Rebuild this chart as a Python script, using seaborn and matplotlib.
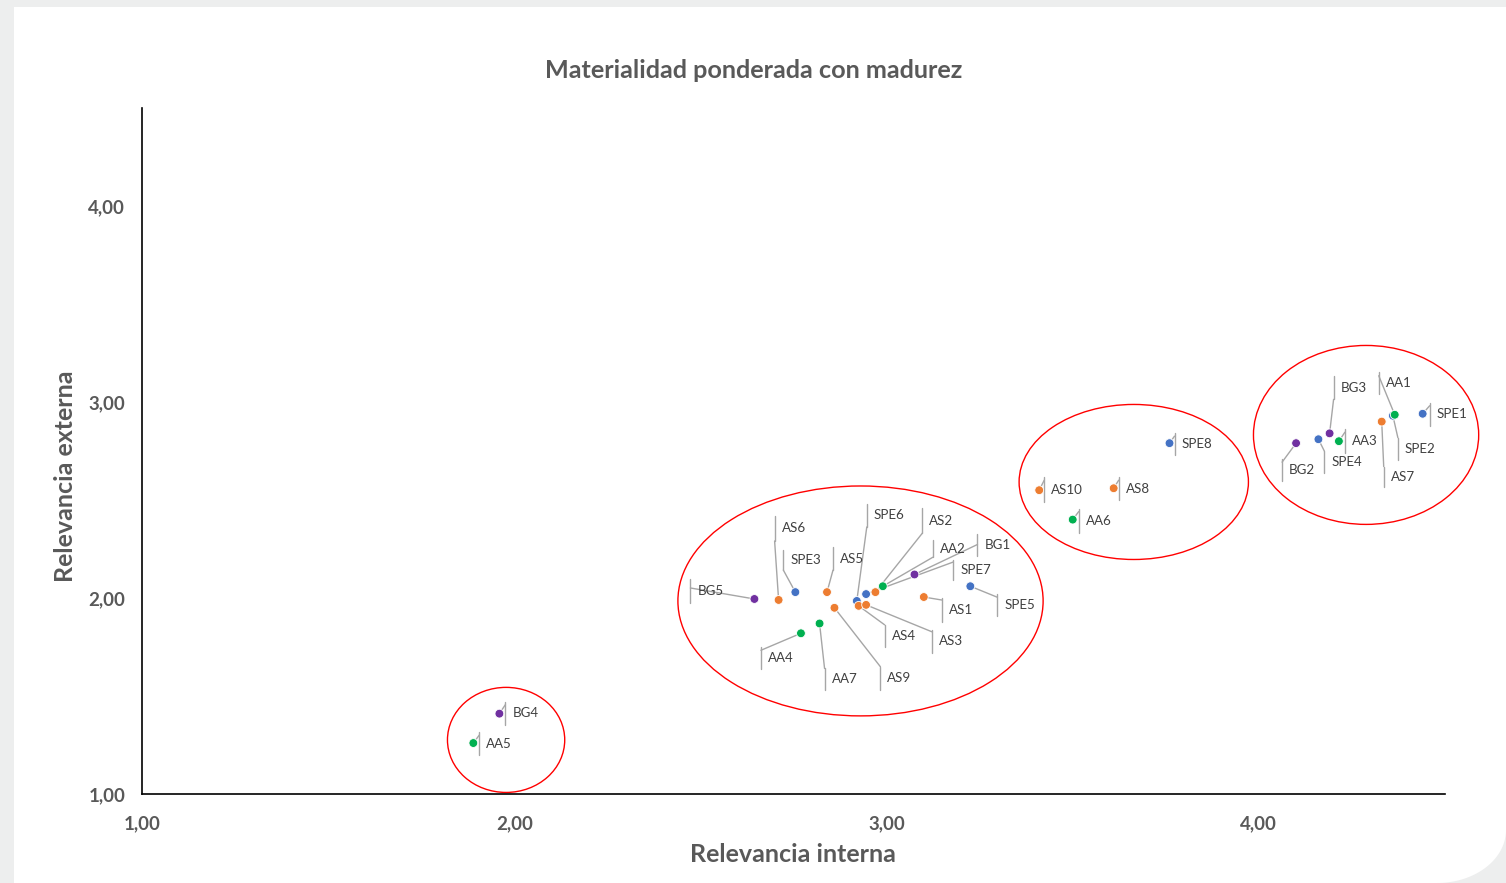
import numpy as np
import pandas as pd
import seaborn as sns
import matplotlib.pyplot as plt
from matplotlib.patches import Ellipse, Rectangle, Polygon

# ---------------- data ----------------
etiquetas = ["SPE6", "BG5", "AS6", "SPE3", "AS5", "AA4", "AA7", "AS9", "SPE7", "AS2", "AA2",
             "BG1", "SPE5", "AS1", "AS4", "AS3",
             "BG2", "SPE4", "BG3", "AA3", "AS7", "SPE2", "AA1", "SPE1",
             "SPE8", "AS10", "AS8", "AA6",
             "BG4", "AA5"]
relevancia_interna = [2.92, 2.645, 2.71, 2.755, 2.84, 2.77, 2.82, 2.86, 2.945, 2.97, 2.99,
                      3.075, 3.225, 3.10, 2.925, 2.945,
                      4.10, 4.16, 4.19, 4.215, 4.33, 4.36, 4.365, 4.44,
                      3.76, 3.41, 3.61, 3.50,
                      1.96, 1.89]
relevancia_externa = [1.985, 1.995, 1.99, 2.03, 2.03, 1.82, 1.87, 1.95, 2.02, 2.03, 2.06,
                      2.12, 2.06, 2.005, 1.96, 1.965,
                      2.79, 2.81, 2.84, 2.80, 2.90, 2.93, 2.935, 2.94,
                      2.79, 2.55, 2.56, 2.40,
                      1.41, 1.26]
grupos = ["SPE", "BG", "AS", "SPE", "AS", "AA", "AA", "AS", "SPE", "AS", "AA",
          "BG", "SPE", "AS", "AS", "AS",
          "BG", "SPE", "BG", "AA", "AS", "SPE", "AA", "SPE",
          "SPE", "AS", "AS", "AA",
          "BG", "AA"]
orden_grupos = ["SPE", "AS", "AA", "BG"]
ticks = [1, 2, 3, 4]
tick_labels = ["1,00", "2,00", "3,00", "4,00"]

# ---------------- styling / layout ----------------
colores = {"SPE": "#4472C4", "AS": "#ED7D31", "AA": "#00B050", "BG": "#7030A0"}
# callout layout (pixels relative to the point, image y downward):
# bar dx, bar top dy, bar bottom dy, leader attach dy
callouts = {
    "BG5": (-64, -20, 4, -11), "AS6": (-4, -84, -59, -59), "SPE3": (-12, -42, -22, -22),
    "AS5": (6, -45, -22, -22), "SPE6": (10, -97, -74, -74), "AS2": (47, -84, -59, -59),
    "AA2": (50, -46, -29, -29), "BG1": (63, -40, -18, -30), "SPE7": (87, -34, -14, -32),
    "SPE5": (27, 8, 30, 11), "AS1": (18, 1, 25, 3), "AS4": (26, 19, 41, 19),
    "AS3": (66, 25, 48, 27), "AA4": (-40, 14, 36, 17), "AA7": (5, 45, 67, 45),
    "AS9": (46, 59, 82, 59),
    "BG3": (4, -57, -34, -34), "AA1": (-16, -43, -21, -39), "SPE1": (7, -11, 12, -8),
    "AA3": (6, -12, 12, -9), "SPE2": (5, 22, 44, 22), "SPE4": (6, 12, 34, 12),
    "AS7": (2, 45, 65, 45), "BG2": (-14, 16, 38, 19),
    "SPE8": (5, -10, 12, -7), "AS10": (5, -13, 12, -10), "AS8": (5, -11, 12, -8),
    "AA6": (6, -11, 13, -8),
    "BG4": (6, -12, 11, -9), "AA5": (6, -11, 12, -8),
}
# highlight ellipses (center x, center y, width, height) in data units
elipses = [(1.978, 1.276, 0.315, 0.536), (2.930, 1.985, 0.981, 1.173),
           (3.664, 2.592, 0.616, 0.791), (4.288, 2.832, 0.605, 0.913)]

df = pd.DataFrame({"etiqueta": etiquetas, "interna": relevancia_interna,
                   "externa": relevancia_externa, "grupo": grupos})

sns.set_theme(style="white")
plt.rcParams["font.family"] = ["Lato", "DejaVu Sans"]
W, H = 1506, 883
fig = plt.figure(figsize=(W / 100, H / 100), dpi=100)
fig.patch.set_facecolor("#EDEEEE")
fig.patches.append(Rectangle((14 / W, 0), 1 - 14 / W, 1 - 7 / H, transform=fig.transFigure,
                             facecolor="white", edgecolor="none", zorder=-10))
t = np.linspace(0, np.pi / 2, 40)
arc = [((1437 + 69 * np.cos(a)) / W, 1 - (830 + 53 * np.sin(a)) / H) for a in t]
fig.patches.append(Polygon(arc + [(1, 0)], closed=True, transform=fig.transFigure,
                           facecolor="#EDEEEE", edgecolor="none", zorder=-9))

ax = fig.add_axes([142 / W, 1 - 794 / H, (1445 - 142) / W, (794 - 108) / H])
ax.set_facecolor("none")
ax.set_xlim(1, 4.5)
ax.set_ylim(1, 4.5)

sns.scatterplot(data=df, x="interna", y="externa", hue="grupo", hue_order=orden_grupos,
                palette=colores, s=40, linewidth=0.6, edgecolor="white", legend=False,
                ax=ax, zorder=5)

for (cx, cy, w, h) in elipses:
    ax.add_patch(Ellipse((cx, cy), w, h, facecolor="none", edgecolor="#FF0000", lw=1.0,
                         zorder=2, clip_on=False))

inv = ax.transData.inverted()
lead_col = "#A6A6A6"
for lab, xv, yv in zip(etiquetas, relevancia_interna, relevancia_externa):
    px, py = ax.transData.transform((xv, yv))
    dx, top, bot, att = callouts[lab]
    bx = px + dx
    p_top = inv.transform((bx, py - top))
    p_bot = inv.transform((bx, py - bot))
    p_att = inv.transform((bx, py - att))
    ax.plot([p_top[0], p_bot[0]], [p_top[1], p_bot[1]], color=lead_col, lw=1.0, zorder=3,
            clip_on=False)
    ax.plot([xv, p_att[0]], [yv, p_att[1]], color=lead_col, lw=1.0, zorder=3, clip_on=False)
    tpos = inv.transform((bx + 7, py - (top + bot) / 2))
    ax.text(tpos[0], tpos[1], lab, fontsize=9.6, color="#404040", ha="left", va="center",
            zorder=4)

for s in ["top", "right"]:
    ax.spines[s].set_visible(False)
for s in ["left", "bottom"]:
    ax.spines[s].set_color("black")
    ax.spines[s].set_linewidth(1.2)
ax.set_xticks(ticks)
ax.set_xticklabels(tick_labels)
ax.set_yticks(ticks)
ax.set_yticklabels(tick_labels)
ax.tick_params(axis="both", direction="out", length=5, width=1.2, color="black",
               labelsize=13.5, labelcolor="#595959")
ax.tick_params(axis="x", pad=10)
ax.tick_params(axis="y", pad=7)
for lbl in ax.get_xticklabels() + ax.get_yticklabels():
    lbl.set_fontweight("bold")
ax.set_xlabel("Relevancia interna", fontsize=18, fontweight="bold", color="#595959")
ax.set_ylabel("Relevancia externa", fontsize=18, fontweight="bold", color="#595959")
ax.xaxis.set_label_coords((793 - 142) / 1303, -(843 - 794) / 686)
ax.yaxis.set_label_coords((77 - 142) / 1303, (794 - 476) / 686)
fig.text(754 / W, 1 - 71 / H, "Materialidad ponderada con madurez", ha="center", va="center",
         fontsize=18.2, fontweight="bold", color="#595959")

fig.savefig("out.png", dpi=100, facecolor=fig.get_facecolor())
